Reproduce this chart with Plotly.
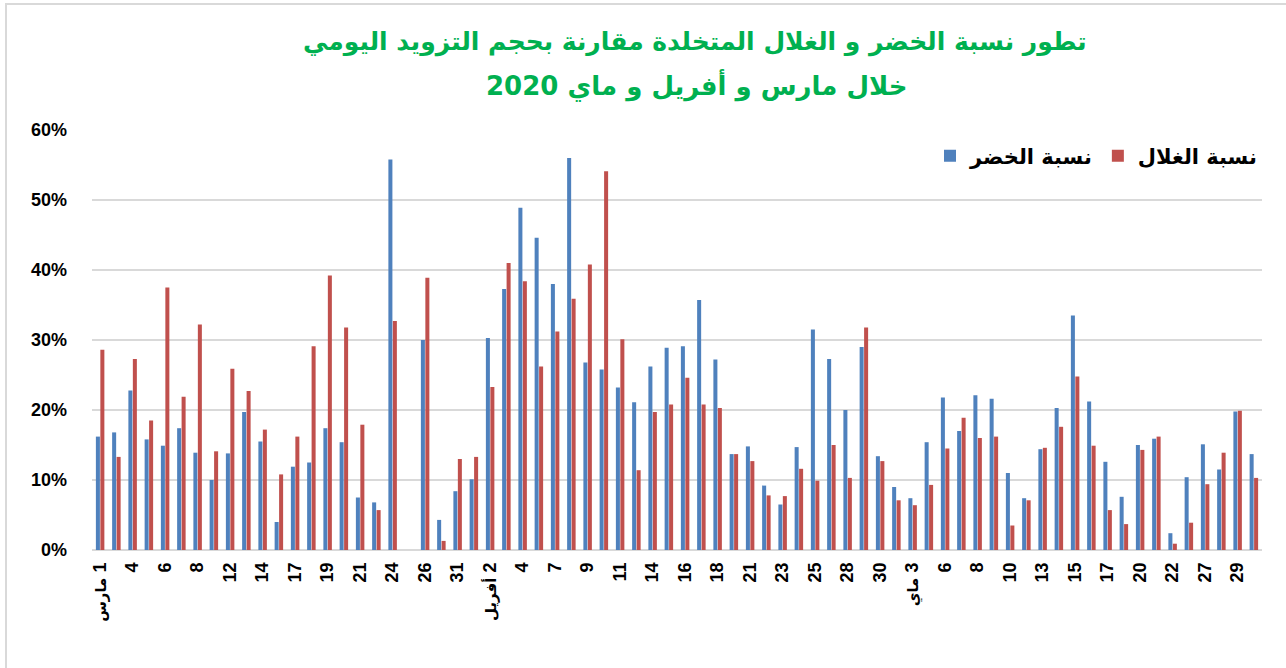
import plotly.graph_objects as go

# ---- data ----
days = [1, 3, 4, 5, 6, 7, 8, 10, 12, 13, 14, 16, 17, 18, 19, 20, 21, 23, 24, 25, 26, 30, 31,
        1, 2, 3, 4, 5, 7, 8, 9, 10, 11, 13, 14, 15, 16, 17, 18, 20, 21, 22, 23, 24, 25, 27, 28, 29, 30,
        2, 3, 5, 6, 7, 8, 9, 10, 12, 13, 14, 15, 16, 17, 19, 20, 21, 22, 26, 27, 28, 29, 30]
months = ["مارس"] * 23 + ["أفريل"] * 26 + ["ماي"] * 23

vegetables = [16.2, 16.8, 22.8, 15.8, 14.9, 17.4, 13.9, 10.0, 13.8, 19.7, 15.5, 4.0, 11.9, 12.5,
              17.4, 15.4, 7.5, 6.8, 55.8, 0.0, 30.0, 4.3, 8.4, 10.1, 30.3, 37.3, 48.9, 44.6, 38.0,
              56.0, 26.8, 25.8, 23.2, 21.1, 26.2, 28.9, 29.1, 35.7, 27.2, 13.7, 14.8, 9.2, 6.5,
              14.7, 31.5, 27.3, 20.0, 29.0, 13.4, 9.0, 7.4, 15.4, 21.8, 17.0, 22.1, 21.6, 11.0,
              7.4, 14.4, 20.3, 33.5, 21.2, 12.6, 7.6, 15.0, 15.9, 2.4, 10.4, 15.1, 11.5, 19.8, 13.7]
fruits = [28.6, 13.3, 27.3, 18.5, 37.5, 21.9, 32.2, 14.1, 25.9, 22.7, 17.2, 10.8, 16.2, 29.1,
          39.2, 31.8, 17.9, 5.7, 32.7, 0.0, 38.9, 1.3, 13.0, 13.3, 23.3, 41.0, 38.4, 26.2, 31.2,
          35.9, 40.8, 54.1, 30.1, 11.4, 19.7, 20.8, 24.6, 20.8, 20.3, 13.7, 12.7, 7.8, 7.7,
          11.6, 9.9, 15.0, 10.3, 31.8, 12.7, 7.1, 6.4, 9.3, 14.5, 18.9, 16.0, 16.2, 3.5,
          7.1, 14.6, 17.6, 24.8, 14.9, 5.7, 3.7, 14.3, 16.2, 0.9, 3.9, 9.4, 13.9, 19.9, 10.3]

tick_days = ["1", "4", "6", "8", "12", "14", "17", "19", "21", "24", "26", "31",
             "2", "4", "7", "9", "11", "14", "16", "18", "21", "23", "25", "28", "30",
             "3", "6", "8", "10", "13", "15", "17", "20", "22", "27", "29"]
tick_months = ["مارس"] + [""] * 11 + ["أفريل"] + [""] * 12 + ["ماي"] + [""] * 10

y_ticks = [0, 10, 20, 30, 40, 50, 60]
y_tick_labels = ["0%", "10%", "20%", "30%", "40%", "50%", "60%"]

series_names = ["نسبة الخضر", "نسبة الغلال"]
title_line1 = "تطور نسبة الخضر و الغلال المتخلدة مقارنة بحجم التزويد اليومي"
title_line2 = "خلال مارس و أفريل و ماي 2020"

categories = [f"{d} {m}" for d, m in zip(days, months)]
tick_text = [(f"<span style='font-size:15px'>{m}</span> \u200e{d}" if m else d)
             for d, m in zip(tick_days, tick_months)]

FONT = "Liberation Sans, Arial, DejaVu Sans, sans-serif"
AR_FONT = "DejaVu Sans, Arial, sans-serif"

fig = go.Figure()
fig.add_trace(go.Bar(x=categories, y=vegetables, name=series_names[0],
                     marker=dict(color="#4F81BD", line=dict(width=0))))
fig.add_trace(go.Bar(x=categories, y=fruits, name=series_names[1],
                     marker=dict(color="#C0504D", line=dict(width=0))))

L, R, T, B = 92, 24, 130, 118
W, H = 1286, 668
pw, ph = W - L - R, H - T - B


def px_x(px):
    return (px - L) / pw


def px_y(py):
    return (T + ph - py) / ph


fig.update_layout(
    width=W, height=H,
    margin=dict(l=L, r=R, t=T, b=B, pad=0),
    paper_bgcolor="white", plot_bgcolor="white",
    barmode="group", bargap=0.45, bargroupgap=0.1,
    annotations=[
        dict(text="<b>" + title_line1 + "</b>", xref="paper", yref="paper",
             x=px_x(695), y=px_y(42), xanchor="center", yanchor="middle", showarrow=False,
             font=dict(family=AR_FONT, size=25, color="#00B050")),
        dict(text="<b>" + title_line2 + "</b>", xref="paper", yref="paper",
             x=px_x(697), y=px_y(86), xanchor="center", yanchor="middle", showarrow=False,
             font=dict(family=AR_FONT, size=26, color="#00B050")),
    ],
    legend=dict(orientation="h", x=1, xanchor="right", y=px_y(156), yanchor="middle",
                font=dict(family=AR_FONT, size=21, color="black", weight="bold"),
                bgcolor="rgba(0,0,0,0)", traceorder="normal", itemwidth=30),
    showlegend=True,
    xaxis=dict(type="category", categoryorder="array", categoryarray=categories,
               tickmode="array", tickvals=categories[::2], ticktext=tick_text,
               tickangle=-90, tickfont=dict(family=FONT, size=18, color="black", weight="bold"),
               showgrid=False, showline=False, ticks="", ticklabelstandoff=8, zeroline=False),
    yaxis=dict(range=[0, 60], tickmode="array", tickvals=y_ticks, ticktext=y_tick_labels,
               tickfont=dict(family=FONT, size=18, color="black", weight="bold"),
               showgrid=True, gridcolor="#d9d9d9", gridwidth=2,
               zeroline=True, zerolinecolor="#d9d9d9", zerolinewidth=2,
               showline=False, ticks="", ticklabelstandoff=24),
    shapes=[dict(type="rect", xref="paper", yref="paper",
                 x0=px_x(6), x1=px_x(W + 10), y0=px_y(H + 10), y1=px_y(4),
                 line=dict(color="#d9d9d9", width=2), fillcolor="rgba(0,0,0,0)", layer="below")],
)

fig.write_html("out.html", config={"displayModeBar": False},
               post_script="document.body.style.margin='0';")
